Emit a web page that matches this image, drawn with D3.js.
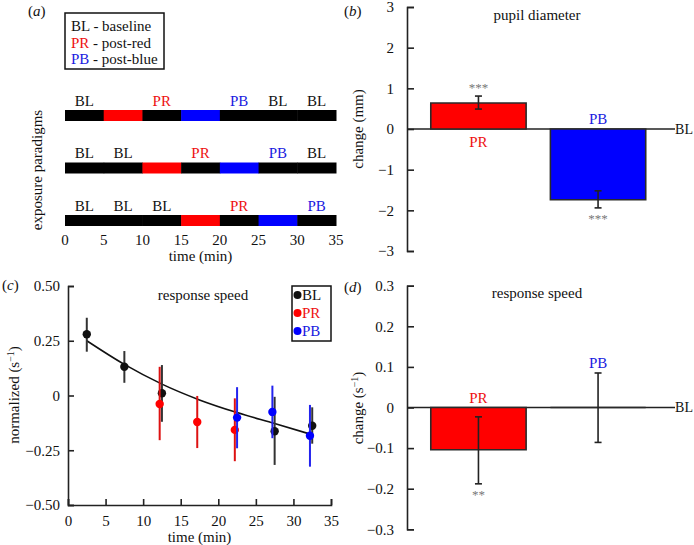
<!DOCTYPE html>
<html><head><meta charset="utf-8">
<script src="https://cdn.jsdelivr.net/npm/d3@7"></script>
<style>
body{margin:0;background:#fff}
svg{display:block}
text{font-family:"Liberation Serif","Times New Roman",serif;fill:#111}
</style>
</head><body>
<svg id="chart" width="694" height="545"></svg>
<script>
// ---------- data ----------
const timeTicks = [0,5,10,15,20,25,30,35];
const slotStarts = [0,5,10,15,20,25,30];
const slotLength = 5;
const paradigmRows = ["row1","row2","row3"];
const row1Light = ["dark","red","dark","blue","dark","dark","dark"];
const row2Light = ["dark","dark","red","dark","blue","dark","dark"];
const row3Light = ["dark","dark","dark","red","dark","blue","dark"];
const row1Labels = ["BL","","PR","","PB","BL","BL"];
const row2Labels = ["BL","BL","","PR","","PB","BL"];
const row3Labels = ["BL","BL","BL","","PR","","PB"];
const legendCodes = ["BL","PR","PB"];
const legendNames = ["baseline","post-red","post-blue"];

const conditions = ["PR","PB"];
const pupilChange = [0.64, -1.74];
const pupilHigh = [0.81, -1.52];
const pupilLow = [0.49, -1.94];
const pupilStars = ["***","***"];
const pupilTicks = [-3,-2,-1,0,1,2,3];
const pupilTickLabels = ["\u22123","\u22122","\u22121","0","1","2","3"];

const speedTicks = [-0.5,-0.25,0,0.25,0.5];
const speedTickLabels = ["\u22120.50","\u22120.25","0","0.25","0.50"];
const blTime = [2.5,7.5,12.5,27.5,32.5];
const blValue = [0.28,0.131,0.01,-0.163,-0.138];
const blHigh = [0.355,0.203,0.139,-0.006,-0.054];
const blLow = [0.20,0.058,-0.12,-0.317,-0.22];
const prTime = [12.2,17.2,22.2];
const prValue = [-0.039,-0.121,-0.157];
const prHigh = [0.131,-0.002,-0.013];
const prLow = [-0.204,-0.24,-0.30];
const pbTime = [22.5,27.2,32.2];
const pbValue = [-0.101,-0.075,-0.184];
const pbHigh = [0.038,0.045,-0.043];
const pbLow = [-0.241,-0.195,-0.325];
const fitTime = [2.5,7.5,12.5,17.5,22.5,27.5,32.2];
const fitValue = [0.25,0.142,0.052,-0.02,-0.078,-0.128,-0.176];

const diffChange = [-0.104, 0];
const diffHigh = [-0.023, 0.085];
const diffLow = [-0.188, -0.086];
const diffStars = ["**",""];
const diffTicks = [-0.3,-0.2,-0.1,0,0.1,0.2,0.3];
const diffTickLabels = ["\u22120.3","\u22120.2","\u22120.1","0","0.1","0.2","0.3"];

// ---------- styles ----------
const COL = {dark:"#000", red:"#ff0000", blue:"#0000ff", BL:"#111", PR:"#ee1111", PB:"#1a1ae0", axis:"#222", star:"#777"};
const FS = 15;
const svg = d3.select("#chart");

function txt(g, x, y, s, opts={}) {
  const t = g.append("text").attr("x", x).attr("y", y).attr("dy","0.35em")
    .attr("font-size", opts.size || FS).attr("text-anchor", opts.anchor || "middle").text(s);
  if (opts.fill) t.style("fill", opts.fill);
  if (opts.rotate) t.attr("transform", `rotate(-90,${x},${y})`);
  if (opts.italic) t.attr("font-style","italic");
  return t;
}
function panelLabel(x, y, letter) {
  const t = svg.append("text").attr("x", x).attr("y", y).attr("dy","0.35em").attr("font-size", FS);
  t.append("tspan").text("(");
  t.append("tspan").attr("font-style","italic").text(letter);
  t.append("tspan").text(")");
}

// ---------- panel (a) ----------
(function(){
  const g = svg.append("g");
  const x = d3.scaleLinear().domain([0,35]).range([65,336]);
  const y = d3.scalePoint().domain(paradigmRows).range([115.5,220.5]);
  const lights = [row1Light,row2Light,row3Light];
  const labels = [row1Labels,row2Labels,row3Labels];
  const barH = 11;
  paradigmRows.forEach((r,i) => {
    g.selectAll(null).data(slotStarts).join("rect")
      .attr("x", d => x(d)).attr("width", d => x(d+slotLength)-x(d)+0.5)
      .attr("y", y(r)-barH/2).attr("height", barH)
      .attr("fill", (d,j) => COL[lights[i][j]]);
    slotStarts.forEach((s,j) => {
      const lab = labels[i][j];
      if (lab) txt(g, x(s+slotLength/2), y(r)-15, lab, {fill: COL[lab]});
    });
  });
  timeTicks.forEach(t => txt(g, x(t), 240, String(t)));
  txt(g, x(17.5), 256, "time (min)");
  txt(g, 37, y("row2")+2, "exposure paradigms", {rotate:true});
  // legend
  g.append("rect").attr("x",65).attr("y",13).attr("width",99).attr("height",56)
    .attr("fill","none").attr("stroke","#111").attr("stroke-width",1.5);
  legendCodes.forEach((c,i) => {
    const t = g.append("text").attr("x",71).attr("y",26+i*16.5).attr("dy","0.35em").attr("font-size",FS);
    t.append("tspan").style("fill",COL[c]).text(c);
    t.append("tspan").text(" - " + legendNames[i]);
  });
  panelLabel(28, 11, "a");
})();

// ---------- bar panel helper ----------
function barPanel(opts) {
  const g = svg.append("g");
  const y = d3.scaleLinear().domain(opts.domain).range(opts.yRange);
  const x = d3.scaleBand().domain(conditions).range([407,676])
    .paddingInner(0.203).paddingOuter(0.226).align(0.44);
  // axis
  const ax = d3.axisLeft(y).tickValues(opts.ticks).tickSize(-7).tickPadding(13)
    .tickFormat((d,i) => opts.tickLabels[i]);
  const ag = g.append("g").attr("transform","translate(407,0)").call(ax);
  ag.select(".domain").attr("stroke",COL.axis).attr("stroke-width",1.6);
  ag.selectAll(".tick line").attr("stroke",COL.axis).attr("stroke-width",1.6);
  ag.selectAll(".tick text").attr("font-size",FS).attr("font-family","Liberation Serif").style("fill","#111");
  // zero line
  g.append("line").attr("x1",407).attr("x2",675).attr("y1",y(0)).attr("y2",y(0))
    .attr("stroke",COL.axis).attr("stroke-width",1.6);
  txt(g, 693, y(0), "BL", {anchor:"end", size:14});
  // bars
  g.selectAll(null).data(conditions).join("path")
    .attr("d", (c,i) => {
      const x0 = x(c), x1 = x(c)+x.bandwidth(), y0 = y(0), y1 = y(opts.values[i]);
      return `M${x0},${y0}H${x1}V${y1}H${x0}Z`;
    })
    .attr("fill", c => COL[c==="PR"?"red":"blue"])
    .attr("stroke","#2a2a2a").attr("stroke-width",1.6);
  // error bars
  conditions.forEach((c,i) => {
    const cx = x(c)+x.bandwidth()/2;
    const hi = y(opts.high[i]), lo = y(opts.low[i]);
    g.append("line").attr("x1",cx).attr("x2",cx).attr("y1",hi).attr("y2",lo).attr("stroke","#222").attr("stroke-width",1.6);
    [hi,lo].forEach(yy => g.append("line").attr("x1",cx-3.5).attr("x2",cx+3.5).attr("y1",yy).attr("y2",yy).attr("stroke","#222").attr("stroke-width",1.6));
    const v = opts.values[i];
    if (opts.stars[i]) {
      const sy = v >= 0 ? hi - 9 : lo + 11;
      txt(g, cx, sy, opts.stars[i], {fill: COL.star, size: 13});
    }
    let ly;
    if (opts.labelAt[i] === "belowZero") ly = y(0) + 13;
    else if (opts.labelAt[i] === "aboveZero") ly = y(0) - 10;
    else ly = hi - 10;
    txt(g, cx, ly, c, {fill: COL[c]});
  });
  txt(g, 537, opts.titleY, opts.title);
  if (opts.ylab) txt(g, 358, opts.ylabY, opts.ylab, {rotate:true});
  return g;
}

// ---------- panel (b) ----------
barPanel({domain:[-3,3], yRange:[251,7], ticks:pupilTicks, tickLabels:pupilTickLabels,
  values:pupilChange, high:pupilHigh, low:pupilLow, stars:pupilStars,
  labelAt:["belowZero","aboveZero"], title:"pupil diameter", titleY:15,
  ylab:"change (mm)", ylabY:129});
panelLabel(344, 11, "b");

// ---------- panel (d) ----------
const gd = barPanel({domain:[-0.3,0.3], yRange:[529.3,285.7], ticks:diffTicks, tickLabels:diffTickLabels,
  values:diffChange, high:diffHigh, low:diffLow, stars:diffStars,
  labelAt:["aboveZero","aboveErr"], title:"response speed", titleY:293,
  ylab:"", ylabY:408});
(function(){
  const t = gd.append("text").attr("x",358).attr("y",408).attr("dy","0.35em").attr("font-size",FS)
    .attr("text-anchor","middle").attr("transform","rotate(-90,358,408)");
  t.append("tspan").text("change (s");
  t.append("tspan").attr("font-size",10).attr("dy","-0.5em").text("\u22121");
  t.append("tspan").attr("dy","0.3em").text(")");
})();
panelLabel(344, 287, "d");

// ---------- panel (c) ----------
(function(){
  const g = svg.append("g");
  const x = d3.scaleLinear().domain([0,35]).range([68,331]);
  const y = d3.scaleLinear().domain([-0.5,0.5]).range([505,286]);
  const ay = d3.axisLeft(y).tickValues(speedTicks).tickSize(-6).tickPadding(8)
    .tickFormat((d,i) => speedTickLabels[i]);
  const ax = d3.axisBottom(x).tickValues(timeTicks).tickSize(-6).tickPadding(10);
  const gy = g.append("g").attr("transform","translate(68,0)").call(ay);
  const gx = g.append("g").attr("transform","translate(0,505)").call(ax);
  [gy,gx].forEach(a => {
    a.select(".domain").attr("stroke",COL.axis).attr("stroke-width",1.6);
    a.selectAll(".tick line").attr("stroke",COL.axis).attr("stroke-width",1.6);
    a.selectAll(".tick text").attr("font-size",FS).attr("font-family","Liberation Serif").style("fill","#111");
  });
  txt(g, x(17.5), 537, "time (min)");
  const yl = g.append("text").attr("x",14).attr("y",395).attr("dy","0.35em").attr("font-size",FS)
    .attr("text-anchor","middle").attr("transform","rotate(-90,14,395)");
  yl.append("tspan").text("normalized (s");
  yl.append("tspan").attr("font-size",10).attr("dy","-0.5em").text("\u22121");
  yl.append("tspan").attr("dy","0.3em").text(")");
  txt(g, 203, 295, "response speed");

  const fit = fitTime.map((t,i) => [t, fitValue[i]]);
  g.append("path").attr("d", d3.line().x(d=>x(d[0])).y(d=>y(d[1])).curve(d3.curveMonotoneX)(fit))
    .attr("fill","none").attr("stroke","#111").attr("stroke-width",1.6);

  const series = [
    {c:"BL", col:"#111", lineCol:"#333", t:blTime, v:blValue, hi:blHigh, lo:blLow},
    {c:"PR", col:"#ff0000", lineCol:"#dd1111", t:prTime, v:prValue, hi:prHigh, lo:prLow},
    {c:"PB", col:"#0000ff", lineCol:"#2222ee", t:pbTime, v:pbValue, hi:pbHigh, lo:pbLow}
  ];
  series.forEach(s => {
    s.t.forEach((t,i) => {
      g.append("line").attr("x1",x(t)).attr("x2",x(t)).attr("y1",y(s.hi[i])).attr("y2",y(s.lo[i]))
        .attr("stroke",s.lineCol).attr("stroke-width",2);
      g.append("circle").attr("cx",x(t)).attr("cy",y(s.v[i])).attr("r",4.2).attr("fill",s.col);
    });
  });
  g.append("rect").attr("x",292).attr("y",286).attr("width",39).attr("height",55)
    .attr("fill","#fff").attr("stroke","#111").attr("stroke-width",1.5);
  series.forEach((s,i) => {
    const cy = 295 + i*18;
    g.append("circle").attr("cx",297.5).attr("cy",cy).attr("r",4).attr("fill",s.col);
    txt(g, 302, cy, s.c, {anchor:"start", fill: COL[s.c]});
  });
  panelLabel(2, 285, "c");
})();
</script>
</body></html>
